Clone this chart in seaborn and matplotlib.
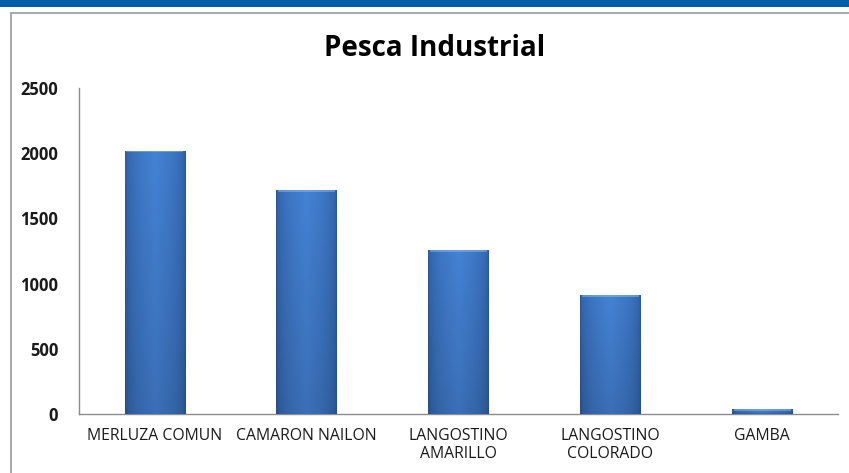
import numpy as np
import pandas as pd
import matplotlib
matplotlib.use("Agg")
import matplotlib.pyplot as plt
from matplotlib.patches import Rectangle
from matplotlib.lines import Line2D
import seaborn as sns

categories = ["MERLUZA COMUN", "CAMARON NAILON", "LANGOSTINO\nAMARILLO",
              "LANGOSTINO\nCOLORADO", "GAMBA"]
values = [2020, 1715, 1255, 910, 35]
yticks = [0, 500, 1000, 1500, 2000, 2500]
title = "Pesca Industrial"

df = pd.DataFrame({"cat": categories, "val": values})

sns.set_theme(style="white")
plt.rcParams['font.family'] = ['Open Sans', 'DejaVu Sans']

fig = plt.figure(figsize=(8.49, 4.73), dpi=100)
fig.patch.set_facecolor("white")
ax = fig.add_axes([79/849, 1-414/473, (838-79)/849, (414-88)/473])

sns.barplot(data=df, x="cat", y="val", color="#3f7cc8", width=0.4,
            ax=ax, saturation=1, edgecolor="none")

# smooth gradient fill clipped to each bar
nx, ny = 256, 64
xs = np.linspace(0, 1, nx)
h = 1 - np.abs(xs - 0.5) * 2  # 0 at edges, 1 at center
h = np.clip(h, 0, 1) ** 0.35
edge = np.array([0x27, 0x52, 0x92]) / 255
center = np.array([0x44, 0x82, 0xd4]) / 255
row = edge[None, :] + (center - edge)[None, :] * h[:, None]
vy = np.linspace(0.86, 1.0, ny)[:, None, None]  # bottom darker
img = np.clip(row[None, :, :] * vy, 0, 1)
for p in ax.patches:
    x0, y0 = p.get_x(), p.get_y()
    w, hh = p.get_width(), p.get_height()
    im = ax.imshow(img, extent=[x0, x0 + w, y0, y0 + hh], origin="lower",
                   aspect="auto", zorder=3, interpolation="antialiased")
    im.set_clip_path(p)
    ax.add_patch(Rectangle((x0 + w*0.03, y0 + hh - min(hh, 14)), w*0.94, min(hh, 14),
                           facecolor="#a8cdf8", alpha=0.4, zorder=4, lw=0))

ax.set_xlim(-0.5, 4.5)
ax.set_ylim(0, 2500)
ax.set_yticks(yticks)
ax.set_yticklabels([str(v) for v in yticks], fontsize=12, fontweight="bold",
                   color="#1a1a1a")
ax.tick_params(axis="y", length=0, pad=15)
ax.tick_params(axis="x", length=0, pad=10, labelsize=11.3, labelcolor="#1a1a1a")
ax.set_xlabel("")
ax.set_ylabel("")
for s in ["top", "right"]:
    ax.spines[s].set_visible(False)
for s in ["left", "bottom"]:
    ax.spines[s].set_color("#8c8c8c")
    ax.spines[s].set_linewidth(1.0)

fig.text(435/849, 1-48/473, title, ha="center", va="center",
         fontsize=20, fontweight="bold", color="#000000")

# top blue band and border of the chart area
fig.add_artist(Rectangle((0, 1-7/473), 1, 7/473, transform=fig.transFigure,
                         facecolor="#005fa8", edgecolor="none"))
fig.add_artist(Line2D([11/849, 11/849], [0, 1-13/473], transform=fig.transFigure,
                      color="#999999", lw=1.2))
fig.add_artist(Line2D([11/849, 1], [1-13/473, 1-13/473], transform=fig.transFigure,
                      color="#999999", lw=1.2))

fig.savefig("out.png", dpi=100)
